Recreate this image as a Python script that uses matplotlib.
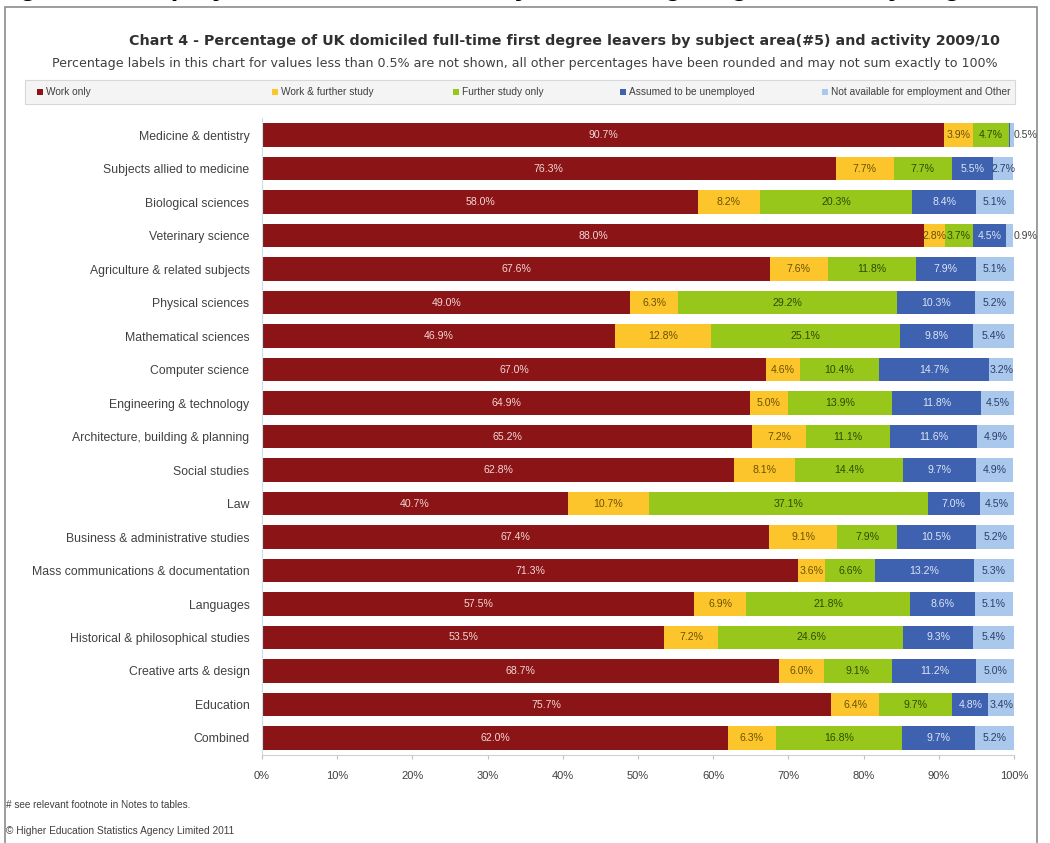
import matplotlib
matplotlib.use("Agg")
import matplotlib.pyplot as plt
from matplotlib.patches import Rectangle

plt.rcParams['font.family'] = ['Liberation Sans', 'DejaVu Sans']

subjects = ["Medicine & dentistry", "Subjects allied to medicine", "Biological sciences",
            "Veterinary science", "Agriculture & related subjects", "Physical sciences",
            "Mathematical sciences", "Computer science", "Engineering & technology",
            "Architecture, building & planning", "Social studies", "Law",
            "Business & administrative studies", "Mass communications & documentation",
            "Languages", "Historical & philosophical studies", "Creative arts & design",
            "Education", "Combined"]

work_only = [90.7, 76.3, 58.0, 88.0, 67.6, 49.0, 46.9, 67.0, 64.9, 65.2, 62.8, 40.7,
             67.4, 71.3, 57.5, 53.5, 68.7, 75.7, 62.0]
work_study = [3.9, 7.7, 8.2, 2.8, 7.6, 6.3, 12.8, 4.6, 5.0, 7.2, 8.1, 10.7,
              9.1, 3.6, 6.9, 7.2, 6.0, 6.4, 6.3]
study_only = [4.7, 7.7, 20.3, 3.7, 11.8, 29.2, 25.1, 10.4, 13.9, 11.1, 14.4, 37.1,
              7.9, 6.6, 21.8, 24.6, 9.1, 9.7, 16.8]
unemployed = [0.2, 5.5, 8.4, 4.5, 7.9, 10.3, 9.8, 14.7, 11.8, 11.6, 9.7, 7.0,
              10.5, 13.2, 8.6, 9.3, 11.2, 4.8, 9.7]
not_avail = [0.5, 2.7, 5.1, 0.9, 5.1, 5.2, 5.4, 3.2, 4.5, 4.9, 4.9, 4.5,
             5.2, 5.3, 5.1, 5.4, 5.0, 3.4, 5.2]

series_names = ["Work only", "Work & further study", "Further study only",
                "Assumed to be unemployed", "Not available for employment and Other"]
series = [work_only, work_study, study_only, unemployed, not_avail]
colors = ["#8b1516", "#fcc52c", "#97c71b", "#3f62b0", "#a9c8ec"]
label_colors = ["#f3d6d6", "#6b5200", "#2f4a00", "#dbe4f6", "#2b3f6b"]

W, H = 1050, 843
fig = plt.figure(figsize=(W / 100, H / 100), dpi=100)

# page heading, cut off by the top edge as in the source
fig.text(-0.005, 1.006, "Figure 4 - Employment and further study of first degree graduates by degree subject and gender by subject area",
         fontsize=20, fontweight='bold', ha='left', va='baseline')

# chart frame
fig.patches.append(Rectangle((5 / W, -0.05), 1032 / W, 1 - 7 / H + 0.05, transform=fig.transFigure,
                             facecolor='white', edgecolor='#8c8c8c', linewidth=1.2, zorder=-1))

ax = fig.add_axes([262 / W, 1 - 754.75 / H, 752 / W, 636.5 / H])
ypos = list(range(len(subjects)))
left = [0.0] * len(subjects)
for vals, col, lcol in zip(series, colors, label_colors):
    ax.barh(ypos, vals, left=left, height=0.7, color=col, edgecolor='none')
    for i, v in enumerate(vals):
        if v >= 0.5:
            x = left[i] + v / 2
            if v < 1:
                x = left[i] + v + 1.6
                lc = '#404040'
            else:
                lc = lcol
            ax.text(x, i, f"{v:.1f}%", ha='center', va='center', fontsize=7.6, color=lc)
    left = [l + v for l, v in zip(left, vals)]

ax.set_ylim(len(subjects) - 0.5, -0.5)
ax.set_xlim(0, 100)
ax.set_yticks(ypos)
ax.set_yticklabels(subjects, fontsize=8.8, color='#404040')
ax.set_xticks(range(0, 101, 10))
ax.set_xticklabels([f"{t}%" for t in range(0, 101, 10)], fontsize=8, color='#404040')
ax.tick_params(axis='y', length=0, pad=9)
ax.tick_params(axis='x', length=3, color='#c0c0c0', pad=9)
for s in ['top', 'right']:
    ax.spines[s].set_visible(False)
ax.spines['bottom'].set_color('#d0d0d0')
ax.spines['left'].set_color('#bfe6ea')

fig.text(0.538, 1 - 41 / H, "Chart 4 - Percentage of UK domiciled full-time first degree leavers by subject area(#5) and activity 2009/10",
         ha='center', va='center', fontsize=10.3, fontweight='bold', color='#303030', family='DejaVu Sans')
fig.text(0.5, 1 - 64 / H, "Percentage labels in this chart for values less than 0.5% are not shown, all other percentages have been rounded and may not sum exactly to 100%",
         ha='center', va='center', fontsize=9.1, color='#404040', family='DejaVu Sans')

# legend strip
fig.patches.append(Rectangle((25 / W, 1 - 104 / H), 990 / W, 24 / H, transform=fig.transFigure,
                             facecolor='#f4f4f4', edgecolor='#d8d8d8', linewidth=0.8))
legend_x = [37, 272, 453, 620, 822]
for name, col, lx in zip(series_names, colors, legend_x):
    fig.patches.append(Rectangle((lx / W, 1 - 95 / H), 6 / W, 6 / H, transform=fig.transFigure,
                                 facecolor=col, edgecolor='none'))
    fig.text((lx + 9) / W, 1 - 92 / H, name, ha='left', va='center', fontsize=7.3, color='#404040')

fig.text(6 / W, 1 - 805 / H, "# see relevant footnote in Notes to tables.", ha='left', va='center',
         fontsize=7.2, color='#404040')
fig.text(6 / W, 1 - 831 / H, "\u00a9 Higher Education Statistics Agency Limited 2011", ha='left', va='center',
         fontsize=7.3, color='#404040')

fig.savefig("out.png", dpi=100)
